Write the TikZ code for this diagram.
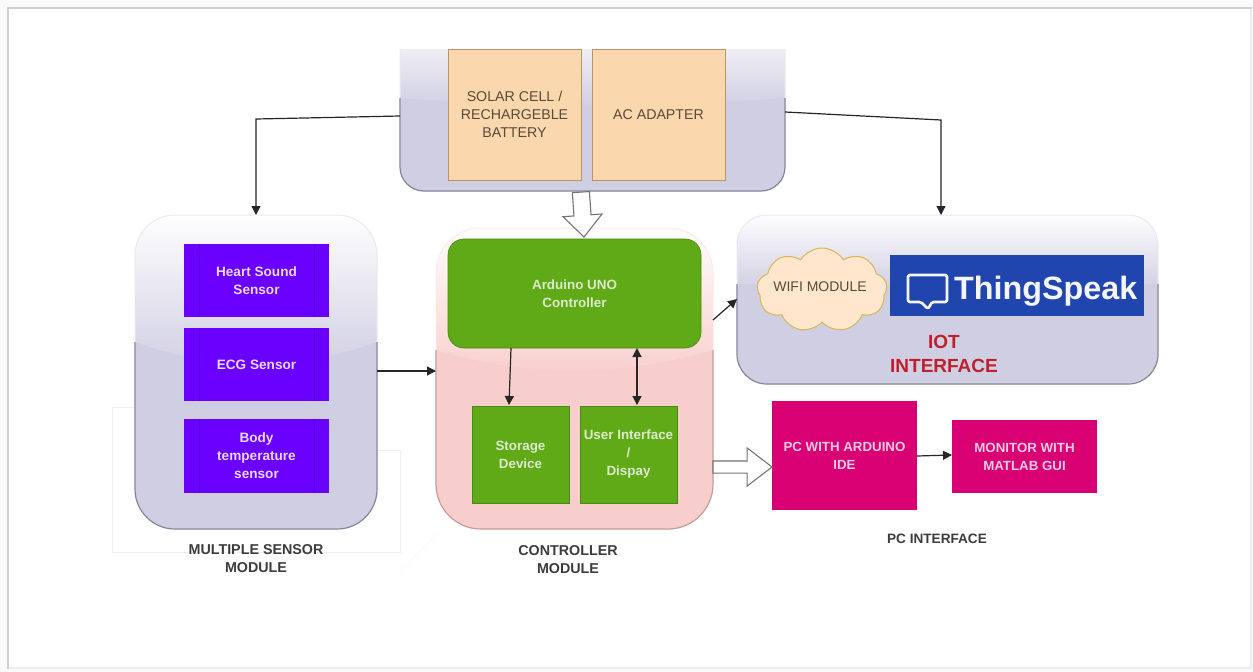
\documentclass[tikz,border=0pt]{standalone}
\usepackage{fontspec}
\setmainfont{Liberation Sans}
\usetikzlibrary{shapes.symbols,shapes.arrows,arrows.meta,calc}
\definecolor{glassbase}{HTML}{D0CEE2}
\definecolor{glassline}{HTML}{85859A}
\definecolor{redbase}{HTML}{F8CECC}
\definecolor{redline}{HTML}{C49A9A}
\definecolor{peach}{HTML}{FAD7AC}
\definecolor{peachline}{HTML}{B9946A}
\definecolor{purpleb}{HTML}{6A00FF}
\definecolor{purplel}{HTML}{5200D8}
\definecolor{greenb}{HTML}{60A917}
\definecolor{greenl}{HTML}{4A8A14}
\definecolor{pinkb}{HTML}{D80073}
\definecolor{cloudf}{HTML}{FFE6CC}
\definecolor{cloudl}{HTML}{D6B656}
\definecolor{tsblue}{HTML}{2145AE}
\definecolor{labelc}{HTML}{3C3C3C}
\definecolor{innertext}{HTML}{5A4A3A}
\definecolor{framec}{HTML}{D0D0D0}
\definecolor{framed}{HTML}{EDEDED}
\definecolor{faint}{HTML}{EFEFEF}
\definecolor{iotred}{HTML}{C0202C}
\tikzset{
  boxn/.style={inner sep=0pt,outer sep=0pt,align=center,font=\fontsize{14.2}{18}\selectfont,text=innertext},
  peachbox/.style={boxn,draw=peachline,line width=.8pt,fill=peach},
  sensorbox/.style={boxn,fill=purpleb,text=white!85!purpleb,font=\fontsize{13.6}{18}\selectfont\bfseries,minimum width=145pt},
  greenbox/.style={boxn,fill=greenb,draw=greenl,line width=.7pt,text=white!78!greenb,font=\fontsize{13.4}{18}\selectfont\bfseries},
  pinkbox/.style={boxn,fill=pinkb,text=white!80!pinkb,font=\fontsize{13.3}{18}\selectfont\bfseries},
  lab/.style={align=center,inner sep=0pt,font=\fontsize{14.3}{18}\selectfont\bfseries,text=labelc},
  conn/.style={draw=black!85,line width=1.2pt,-{Triangle[length=9pt,width=9pt]}},
  conn2/.style={draw=black!85,line width=1.2pt,{Triangle[length=9pt,width=9pt]}-{Triangle[length=9pt,width=9pt]}},
  hollow/.style={shape=single arrow,draw=black!55,fill=white,line width=1.1pt,inner sep=0pt,outer sep=0pt,anchor=tip},
}
\newcommand{\glasspanel}[9]{%
  % #1 x1 #2 y1 #3 x2 #4 y2 #5 radius #6 base #7 line #8 highlight y #9 sag
  \begin{scope}
    \clip[rounded corners=#5pt] (#1,#2) rectangle (#3,#4);
    \fill[#6] (#1,#2) rectangle (#3,#4);
    \shade[top color=white!97!#6,bottom color=#6]
      (#1,#2) -- (#3,#2) -- (#3,#8) .. controls ($(#3,#8)!.35!(#1,#8)+(0,#9)$) and ($(#1,#8)!.35!(#3,#8)+(0,#9)$) .. (#1,#8) -- cycle;
  \end{scope}
  \draw[#6!45!white,line width=1pt,rounded corners=#5pt] (#1,#2) rectangle (#3,#4);
  \begin{scope}
    \clip (#1-3,#8) rectangle (#3+3,#4+3);
    \draw[#7,line width=1.2pt,rounded corners=#5pt] (#1,#2) rectangle (#3,#4);
  \end{scope}
}
\begin{document}
\begin{tikzpicture}[x=1pt,y=-1pt]
\useasboundingbox (0,0) rectangle (1253,672);
\fill[white!98!black] (0,0) rectangle (1253,672);
\fill[white] (9,9) rectangle (1250,667);
\draw[framed,line width=2pt] (1251,8) -- (1251,668) -- (8,668);
\draw[framec,line width=2.4pt] (1252,8) -- (8,8) -- (8,669);

% faint frame behind the sensor module
\draw[faint,line width=.8pt] (135,407) -- (112,407) -- (112,552) -- (400,552) -- (400,450) -- (377,450);
\draw[faint,line width=.8pt,dotted] (402,570) -- (440,530);

% power panel, cut off at the top
\begin{scope}
  \clip (380,49) rectangle (800,200);
  \glasspanel{400}{20}{785}{191}{24}{glassbase}{glassline}{98}{10}
\end{scope}
\node[peachbox,minimum width=133pt,minimum height=131pt,anchor=north west] (solar) at (448,49) {SOLAR CELL /\\RECHARGEBLE\\BATTERY};
\node[peachbox,minimum width=133pt,minimum height=131pt,anchor=north west] (ac) at (592,49) {AC ADAPTER};
\coordinate (powerW) at (400,116);
\coordinate (powerE) at (785,112);

% sensor panel
\glasspanel{135}{215}{377}{529}{40}{glassbase}{glassline}{342}{30}
\coordinate (sensorN) at (256,215);
\coordinate (sensorE) at (377,371);
\foreach \nm/\yy/\hh/\tx in {heart/244/73/{Heart Sound\\Sensor},ecg/328/73/{ECG Sensor},body/419/74/{Body\\temperature\\sensor}}{
  \node[sensorbox,minimum height=\hh pt,anchor=north west] (\nm) at (184,\yy) {\tx};
  \draw[purplel,line width=.7pt] ($(\nm.north west)+(15,0)$) -- ($(\nm.south west)+(15,0)$);
  \draw[purplel,line width=.7pt] ($(\nm.north east)+(-15,0)$) -- ($(\nm.south east)+(-15,0)$);
}

% controller panel
\glasspanel{436}{228}{713}{529}{45}{redbase}{redline}{350}{28}
\coordinate (ctrlW) at (436,371);
\coordinate (ctrlE) at (713,320);
\node[greenbox,rounded corners=16pt,minimum width=253pt,minimum height=109pt,anchor=north west] (arduino) at (448,239) {Arduino UNO\\Controller};
\node[greenbox,minimum width=97pt,minimum height=97pt,anchor=north west] (storage) at (472,406) {Storage\\Device};
\node[greenbox,minimum width=97pt,minimum height=97pt,anchor=north west] (ui) at (580,406) {User Interface\\/\\Dispay};

% IoT panel
\glasspanel{737}{215}{1158}{384}{30}{glassbase}{glassline}{284}{6}
\coordinate (iotN) at (941,215);
\coordinate (iotW) at (737,299);
\node[cloud,cloud puffs=9,cloud puff arc=115,aspect=1.6,draw=cloudl,line width=1pt,fill=cloudf,inner sep=0pt,outer sep=0pt,
  minimum width=130pt,minimum height=84pt] (wifi) at (822,290) {};
\node[boxn,font=\fontsize{14}{18}\selectfont] (wifit) at (820,287) {WIFI MODULE};
\node[fill=tsblue,minimum width=254pt,minimum height=61pt,inner sep=0pt,anchor=north west] (ts) at (890,255) {};
\node[anchor=west,inner sep=0pt,text=white!95!tsblue,font=\fontsize{32.3}{34}\selectfont\bfseries] (tst) at (954,291) {ThingSpeak};
\draw[white!95!tsblue,line width=2.6pt,line join=round,rounded corners=1.5pt] (908,275) -- (947,275) -- (947,302) -- (932,302) -- (928,309) -- (921,302) -- (908,302) -- cycle;
\node[lab,text=iotred,font=\fontsize{19}{24}\selectfont\bfseries] (iotl) at (944,354) {IOT\\INTERFACE};

% PC
\node[pinkbox,minimum width=145pt,minimum height=109pt,anchor=north west] (pc) at (772,401) {PC WITH ARDUINO\\IDE};
\node[pinkbox,minimum width=145pt,minimum height=73pt,anchor=north west] (mon) at (952,420) {MONITOR WITH\\MATLAB GUI};

% labels
\node[lab] (l1) at (256,559) {MULTIPLE SENSOR\\MODULE};
\node[lab] (l2) at (568,560) {CONTROLLER\\MODULE};
\node[lab,font=\fontsize{13.6}{18}\selectfont\bfseries] (l3) at (937,539) {PC INTERFACE};

% connectors
\coordinate (c1) at (256,119);
\coordinate (c2) at (941,120);
\draw[conn] (powerW) -- (c1) -- (sensorN);
\draw[conn] (powerE) -- (c2) -- (iotN);
\draw[conn] (sensorE) -- (ctrlW);
\draw[conn] (ctrlE) -- (iotW);
\draw[conn] (arduino.south -| 511,0) -- (509,405);
\draw[conn2] (637,348) -- (637,405);
\draw[conn] (pc.east |- 0,456) -- (mon.west |- 0,455);

% hollow arrows
\node[hollow,rotate=-86,text height=8pt,text depth=8pt,minimum height=45pt,minimum width=38pt,single arrow head extend=11pt,single arrow tip angle=84] (pa) at (584,237) {};
\node[hollow,text height=5.5pt,text depth=5.5pt,minimum height=59pt,minimum width=37pt,single arrow head extend=13pt,single arrow tip angle=75] (ca) at (772,467) {};
\end{tikzpicture}
\end{document}
